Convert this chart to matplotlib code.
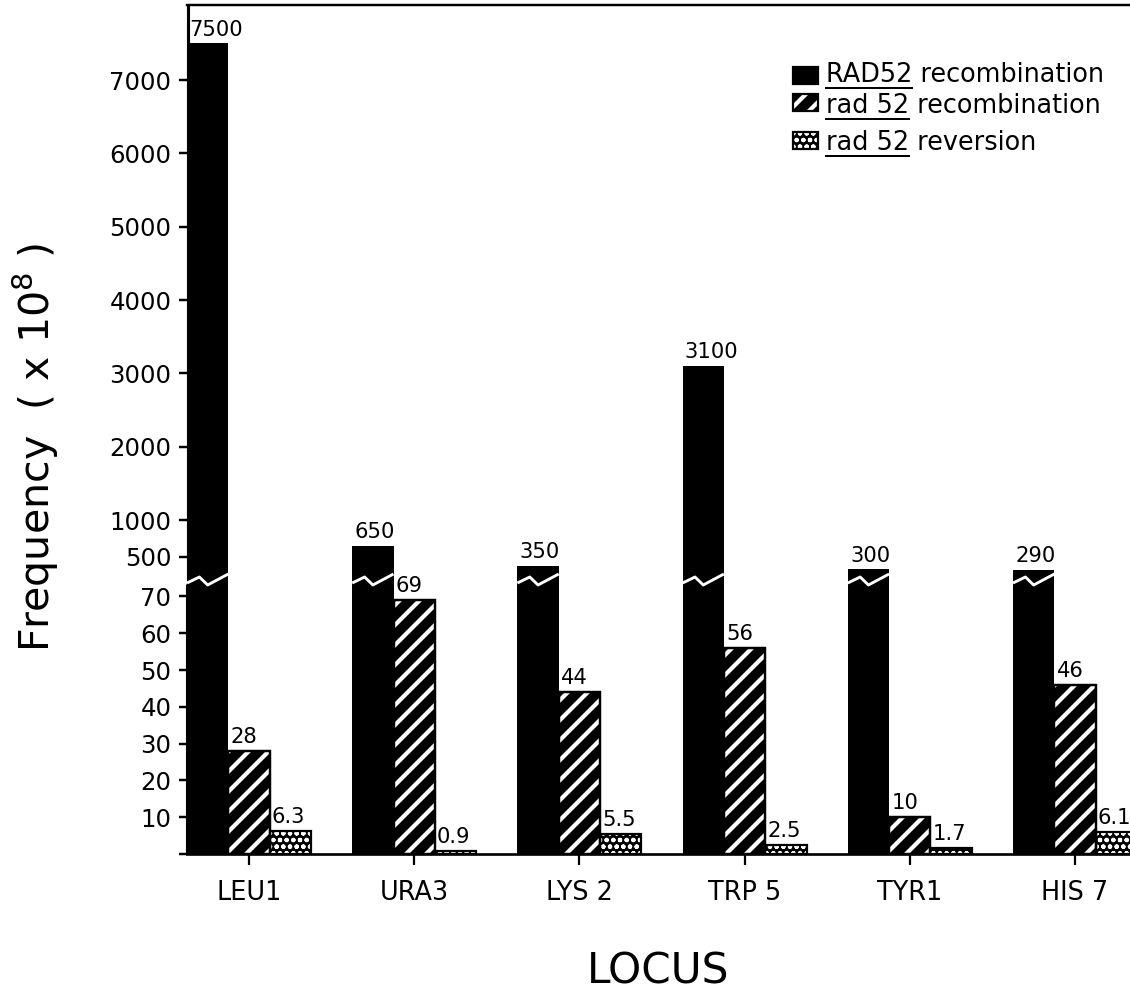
import numpy as np
import matplotlib
matplotlib.use("Agg")
import matplotlib.pyplot as plt
from matplotlib.patches import Rectangle
from matplotlib.lines import Line2D
import matplotlib.transforms as mtransforms

# ---------------- data ----------------
loci = ["LEU1", "URA3", "LYS 2", "TRP 5", "TYR1", "HIS 7"]
RAD52_recombination = [7500, 650, 350, 3100, 300, 290]
rad52_recombination = [28, 69, 44, 56, 10, 46]
rad52_reversion = [6.3, 0.9, 5.5, 2.5, 1.7, 6.1]
label_black = ["7500", "650", "350", "3100", "300", "290"]
label_hatched = ["28", "69", "44", "56", "10", "46"]
label_dotted = ["6.3", "0.9", "5.5", "2.5", "1.7", "6.1"]
ytick_values = [10, 20, 30, 40, 50, 60, 70, 500, 1000, 2000, 3000, 4000, 5000, 6000, 7000]
ytick_labels = ["10", "20", "30", "40", "50", "60", "70", "500", "1000", "2000",
                "3000", "4000", "5000", "6000", "7000"]
legend_labels = ["RAD52 recombination", "rad 52 recombination", "rad 52 reversion"]
legend_underlined = ["RAD52", "rad 52", "rad 52"]

# ---------------- figure ----------------
DPI = 120
S = 80.0 / DPI  # sizes below are tuned as points at 80 dpi
W, H = 1130, 991
plt.rcParams["font.family"] = ["DejaVu Sans"]
plt.rcParams["hatch.linewidth"] = 3.8 * S
fig = plt.figure(figsize=(W / DPI, H / DPI), dpi=DPI)

# broken y scale: value -> pixel height above baseline (piecewise linear)
low_slope = 3.68
up_slope = 0.07333
kv = np.array([-1e5, 0.0, 70.0, 250.0, 500.0, 1e5])
kh = np.array([-1e5 * low_slope, 0.0, 70 * low_slope, 281.5, 297.3,
               297.3 + (1e5 - 500) * up_slope])


def fwd(v):
    return np.interp(np.asarray(v, dtype=float), kv, kh)


def inv(h):
    return np.interp(np.asarray(h, dtype=float), kh, kv)


ax = fig.add_axes([187 / W, 1 - 854 / H, 943 / W, 849 / H])
ax.set_yscale("function", functions=(fwd, inv))
ax.set_ylim(0, float(inv(849)))
group_px = 165.2
w = 0.25
ax.set_xlim(-1.5 * w, -1.5 * w + 943 / group_px)

x = np.arange(len(loci))

# black bars
ax.bar(x - w, RAD52_recombination, w, color="black", linewidth=0, zorder=2)
# hatched bars
ax.bar(x, rad52_recombination, w, facecolor="black", edgecolor="white",
       hatch="//", linewidth=0, zorder=2)
ax.bar(x, rad52_recombination, w, fill=False, edgecolor="black",
       linewidth=2.2 * S, zorder=3)
# dotted bars
db = ax.bar(x + w, rad52_reversion, w, facecolor="black", edgecolor="white",
            hatch="ooo", linewidth=0, zorder=2)
for p in db:
    if hasattr(p, "set_hatch_linewidth"):
        p.set_hatch_linewidth(1.6 * S)
ax.bar(x + w, rad52_reversion, w, fill=False, edgecolor="black",
       linewidth=2.0 * S, zorder=3)

# break marks on black bars
zig_frac = np.array([0.0, 0.3, 0.5, 1.0])
zig_h = np.array([271, 277, 269, 280])
for xi in x:
    left = xi - 1.5 * w
    ax.plot(left + zig_frac * w, inv(zig_h), color="white", lw=2.6 * S,
            solid_capstyle="butt", zorder=4)

# value labels
lab_kw = dict(textcoords="offset points", xytext=(2 * S, 7 * S), ha="left",
              va="baseline", fontsize=19 * S, zorder=5)
for xi, v, t in zip(x, RAD52_recombination, label_black):
    ax.annotate(t, (xi - 1.5 * w, v), **lab_kw)
for xi, v, t in zip(x, rad52_recombination, label_hatched):
    ax.annotate(t, (xi - 0.5 * w, v), **lab_kw)
for xi, v, t in zip(x, rad52_reversion, label_dotted):
    ax.annotate(t, (xi + 0.5 * w, v), **lab_kw)

# axes styling
ax.spines["right"].set_visible(False)
ax.spines["left"].set_visible(False)
ax.spines["top"].set_linewidth(2.2 * S)
ax.spines["bottom"].set_linewidth(2.4 * S)
ax.spines["bottom"].set_zorder(6)

# left spine drawn in two parts with a gap at the break
trans = mtransforms.blended_transform_factory(ax.transAxes, ax.transData)
ytop = float(inv(849))
ax.add_line(Line2D([0, 0], [0, float(inv(270))], transform=trans, color="black",
                   lw=2.8 * S, clip_on=False, solid_capstyle="butt", zorder=6))
ax.add_line(Line2D([0.0015, 0.0015], [float(inv(275)), ytop], transform=trans,
                   color="black", lw=2.8 * S, clip_on=False, solid_capstyle="butt",
                   zorder=6))

ax.set_yticks([0] + ytick_values)
ax.set_yticklabels([""] + ytick_labels)
ax.yaxis.set_minor_locator(matplotlib.ticker.NullLocator())
ax.tick_params(axis="y", direction="out", length=7 * S, width=2.2 * S,
               labelsize=22 * S, pad=7 * S)
ax.set_xticks(x)
ax.set_xticklabels(loci)
ax.tick_params(axis="x", direction="out", length=10 * S, width=2.0 * S,
               labelsize=23 * S, pad=13 * S)

ax.set_xlabel("LOCUS", fontsize=38 * S)
ax.xaxis.set_label_coords(0.5, (854 - 983) / 849)
ax.xaxis.label.set_va("baseline")

ax.set_ylabel("Frequency  ( x 10$^{8}$ )", fontsize=37 * S)
ax.yaxis.set_label_coords((50 - 187) / 943, (854 - 448) / 849)
ax.yaxis.label.set_va("baseline")

# ---------------- manual legend ----------------
def fx(px):
    return px / W


def fy(py):
    return 1 - py / H


patch_rows = [(67, 84), (94, 111), (132, 149)]
baselines = [82, 113, 150]
styles = [dict(facecolor="black", edgecolor="black", hatch=None),
          dict(facecolor="black", edgecolor="white", hatch="//"),
          dict(facecolor="black", edgecolor="white", hatch="ooo")]
renderer = fig.canvas.get_renderer()
for (t, b), base, st, lab, ul in zip(patch_rows, baselines, styles,
                                     legend_labels, legend_underlined):
    r = Rectangle((fx(793), fy(b)), 25 / W, (b - t) / H, transform=fig.transFigure,
                  linewidth=0, **st)
    if st["hatch"] == "ooo" and hasattr(r, "set_hatch_linewidth"):
        r.set_hatch_linewidth(1.6 * S)
    fig.add_artist(r)
    fig.add_artist(Rectangle((fx(793), fy(b)), 25 / W, (b - t) / H,
                             transform=fig.transFigure, fill=False,
                             edgecolor="black", linewidth=2.0 * S))
    fig.text(fx(826), fy(base), lab, fontsize=23 * S, va="baseline", ha="left")
    tmp = fig.text(fx(826), fy(base), ul, fontsize=23 * S, va="baseline", ha="left")
    bb = tmp.get_window_extent(renderer)
    tmp.remove()
    fig.add_artist(Line2D([fx(826), fx(826) + bb.width / W],
                          [fy(base + 6), fy(base + 6)], transform=fig.transFigure,
                          color="black", lw=1.8 * S))

fig.savefig("out.png", dpi=DPI)
